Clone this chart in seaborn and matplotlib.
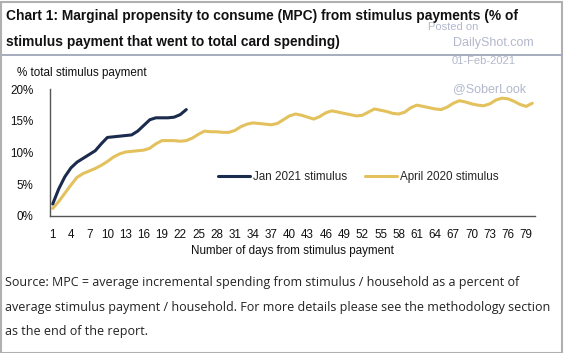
import numpy as np
import pandas as pd
import matplotlib
matplotlib.use("Agg")
import matplotlib.pyplot as plt
import seaborn as sns
from matplotlib.patches import Rectangle
from matplotlib.lines import Line2D

# ---- data ----
jan_days = list(range(1, 24))
jan_values = [1.9, 4.3, 6.2, 7.6, 8.5, 9.1, 9.7, 10.3, 11.4, 12.4, 12.5, 12.6,
              12.7, 12.8, 13.4, 14.3, 15.2, 15.5, 15.5, 15.5, 15.6, 16.0, 16.8]
apr_days = list(range(1, 81))
apr_values = [1.2, 2.3, 3.6, 4.9, 6.1, 6.7, 7.1, 7.5, 8.0, 8.6,
              9.3, 9.8, 10.1, 10.2, 10.3, 10.4, 10.7, 11.4, 11.9, 11.9,
              11.9, 11.8, 11.9, 12.3, 12.9, 13.4, 13.3, 13.3, 13.2, 13.2,
              13.5, 14.1, 14.5, 14.7, 14.6, 14.5, 14.4, 14.6, 15.2, 15.8,
              16.1, 15.9, 15.6, 15.3, 15.7, 16.3, 16.6, 16.4, 16.2, 16.0,
              15.8, 15.9, 16.4, 16.9, 16.7, 16.5, 16.2, 16.1, 16.4, 17.1,
              17.5, 17.3, 17.1, 16.9, 16.8, 17.2, 17.8, 18.2, 18.0, 17.7,
              17.5, 17.4, 17.7, 18.3, 18.6, 18.5, 18.1, 17.6, 17.3, 17.8]
series_names = ["Jan 2021 stimulus", "April 2020 stimulus"]
x_ticks = list(range(1, 80, 3))
y_ticks = [0, 5, 10, 15, 20]
y_tick_labels = ["0%", "5%", "10%", "15%", "20%"]

title_lines = ["Chart 1: Marginal propensity to consume (MPC) from stimulus payments (% of",
               "stimulus payment that went to total card spending)"]
footer_lines = [
    "Source: MPC = average incremental spending from stimulus / household as a percent of",
    "average stimulus payment / household. For more details please see the methodology section",
    "as the end of the report.",
]

df = pd.concat([
    pd.DataFrame({"day": jan_days, "value": jan_values, "series": series_names[0]}),
    pd.DataFrame({"day": apr_days, "value": apr_values, "series": series_names[1]}),
])

sns.set_style("white")
plt.rcParams["font.family"] = ["Liberation Sans", "DejaVu Sans"]

W, H = 564, 353
fig = plt.figure(figsize=(W / 100, H / 100), dpi=100)
fig.patch.set_facecolor("white")

def fx(px):
    return px / W

def fy(py):
    return 1 - py / H

FS = 8.4
TXT = "#111111"

ax = fig.add_axes([fx(50), fy(216), fx(535) - fx(50), fy(89.3) - fy(216)])
colors = {series_names[0]: "#1b2b4d", series_names[1]: "#e3c15c"}
sns.lineplot(data=df, x="day", y="value", hue="series", palette=colors,
             hue_order=series_names[::-1], linewidth=2.2, ax=ax, legend=False)

ax.set_xlim(0.55, 80.45)
ax.set_ylim(0, 20)
ax.set_xticks(x_ticks)
ax.set_xticklabels([str(t) for t in x_ticks])
ax.set_yticks(y_ticks)
ax.set_yticklabels(y_tick_labels)
ax.tick_params(axis="both", length=0, labelsize=FS, colors=TXT)
ax.tick_params(axis="x", pad=9)
ax.tick_params(axis="y", pad=12)
ax.set_xlabel("Number of days from stimulus payment", fontsize=FS, color=TXT, labelpad=3)
ax.set_ylabel("")
for s in ["top", "right"]:
    ax.spines[s].set_visible(False)
for s in ["left", "bottom"]:
    ax.spines[s].set_color("#555555")
    ax.spines[s].set_linewidth(1.0)

handles = [Line2D([0], [0], color=colors[n], lw=2.2) for n in series_names]
ax.legend(handles, series_names, ncol=2, frameon=False, fontsize=FS,
          loc="center left", bbox_to_anchor=(fx(218), fy(177)),
          bbox_transform=fig.transFigure, borderpad=0, borderaxespad=0,
          handlelength=2.75, handletextpad=0.23, columnspacing=1.55)

fig.text(fx(17), fy(73), "% total stimulus payment", fontsize=FS, color=TXT,
         ha="left", va="center")

# title
for line, yy in zip(title_lines, [16, 42]):
    fig.text(fx(6.5), fy(yy), line, fontsize=9.9, fontweight="bold",
             color=TXT, ha="left", va="center")
fig.add_artist(Line2D([fx(2), fx(562)], [fy(54.5), fy(54.5)], color="#a4acbf", lw=1.4,
                      transform=fig.transFigure))

# watermark
wm = "#b3b8cc"
fig.text(fx(428), fy(27), "Posted on", fontsize=8, color=wm, va="center")
fig.text(fx(453), fy(43), "DailyShot.com", fontsize=9.0, color=wm, va="center")
fig.text(fx(452), fy(61), "01-Feb-2021", fontsize=8, color=wm, va="center")
fig.text(fx(453), fy(89), "@SoberLook", fontsize=9.0, color=wm, va="center")

# footer
for line, yy in zip(footer_lines, [282.7, 308, 331]):
    fig.text(fx(5), fy(yy), line, fontsize=9.0, color="#222222",
             family=["Open Sans", "DejaVu Sans"], ha="left", va="center")

fig.add_artist(Rectangle((0.5 / W, 0.5 / H), 1 - 2.5 / W, 1 - 2.5 / H, fill=False,
                         edgecolor="#b0b0b0", lw=1.5, transform=fig.transFigure))

fig.savefig("out.png", dpi=100)
